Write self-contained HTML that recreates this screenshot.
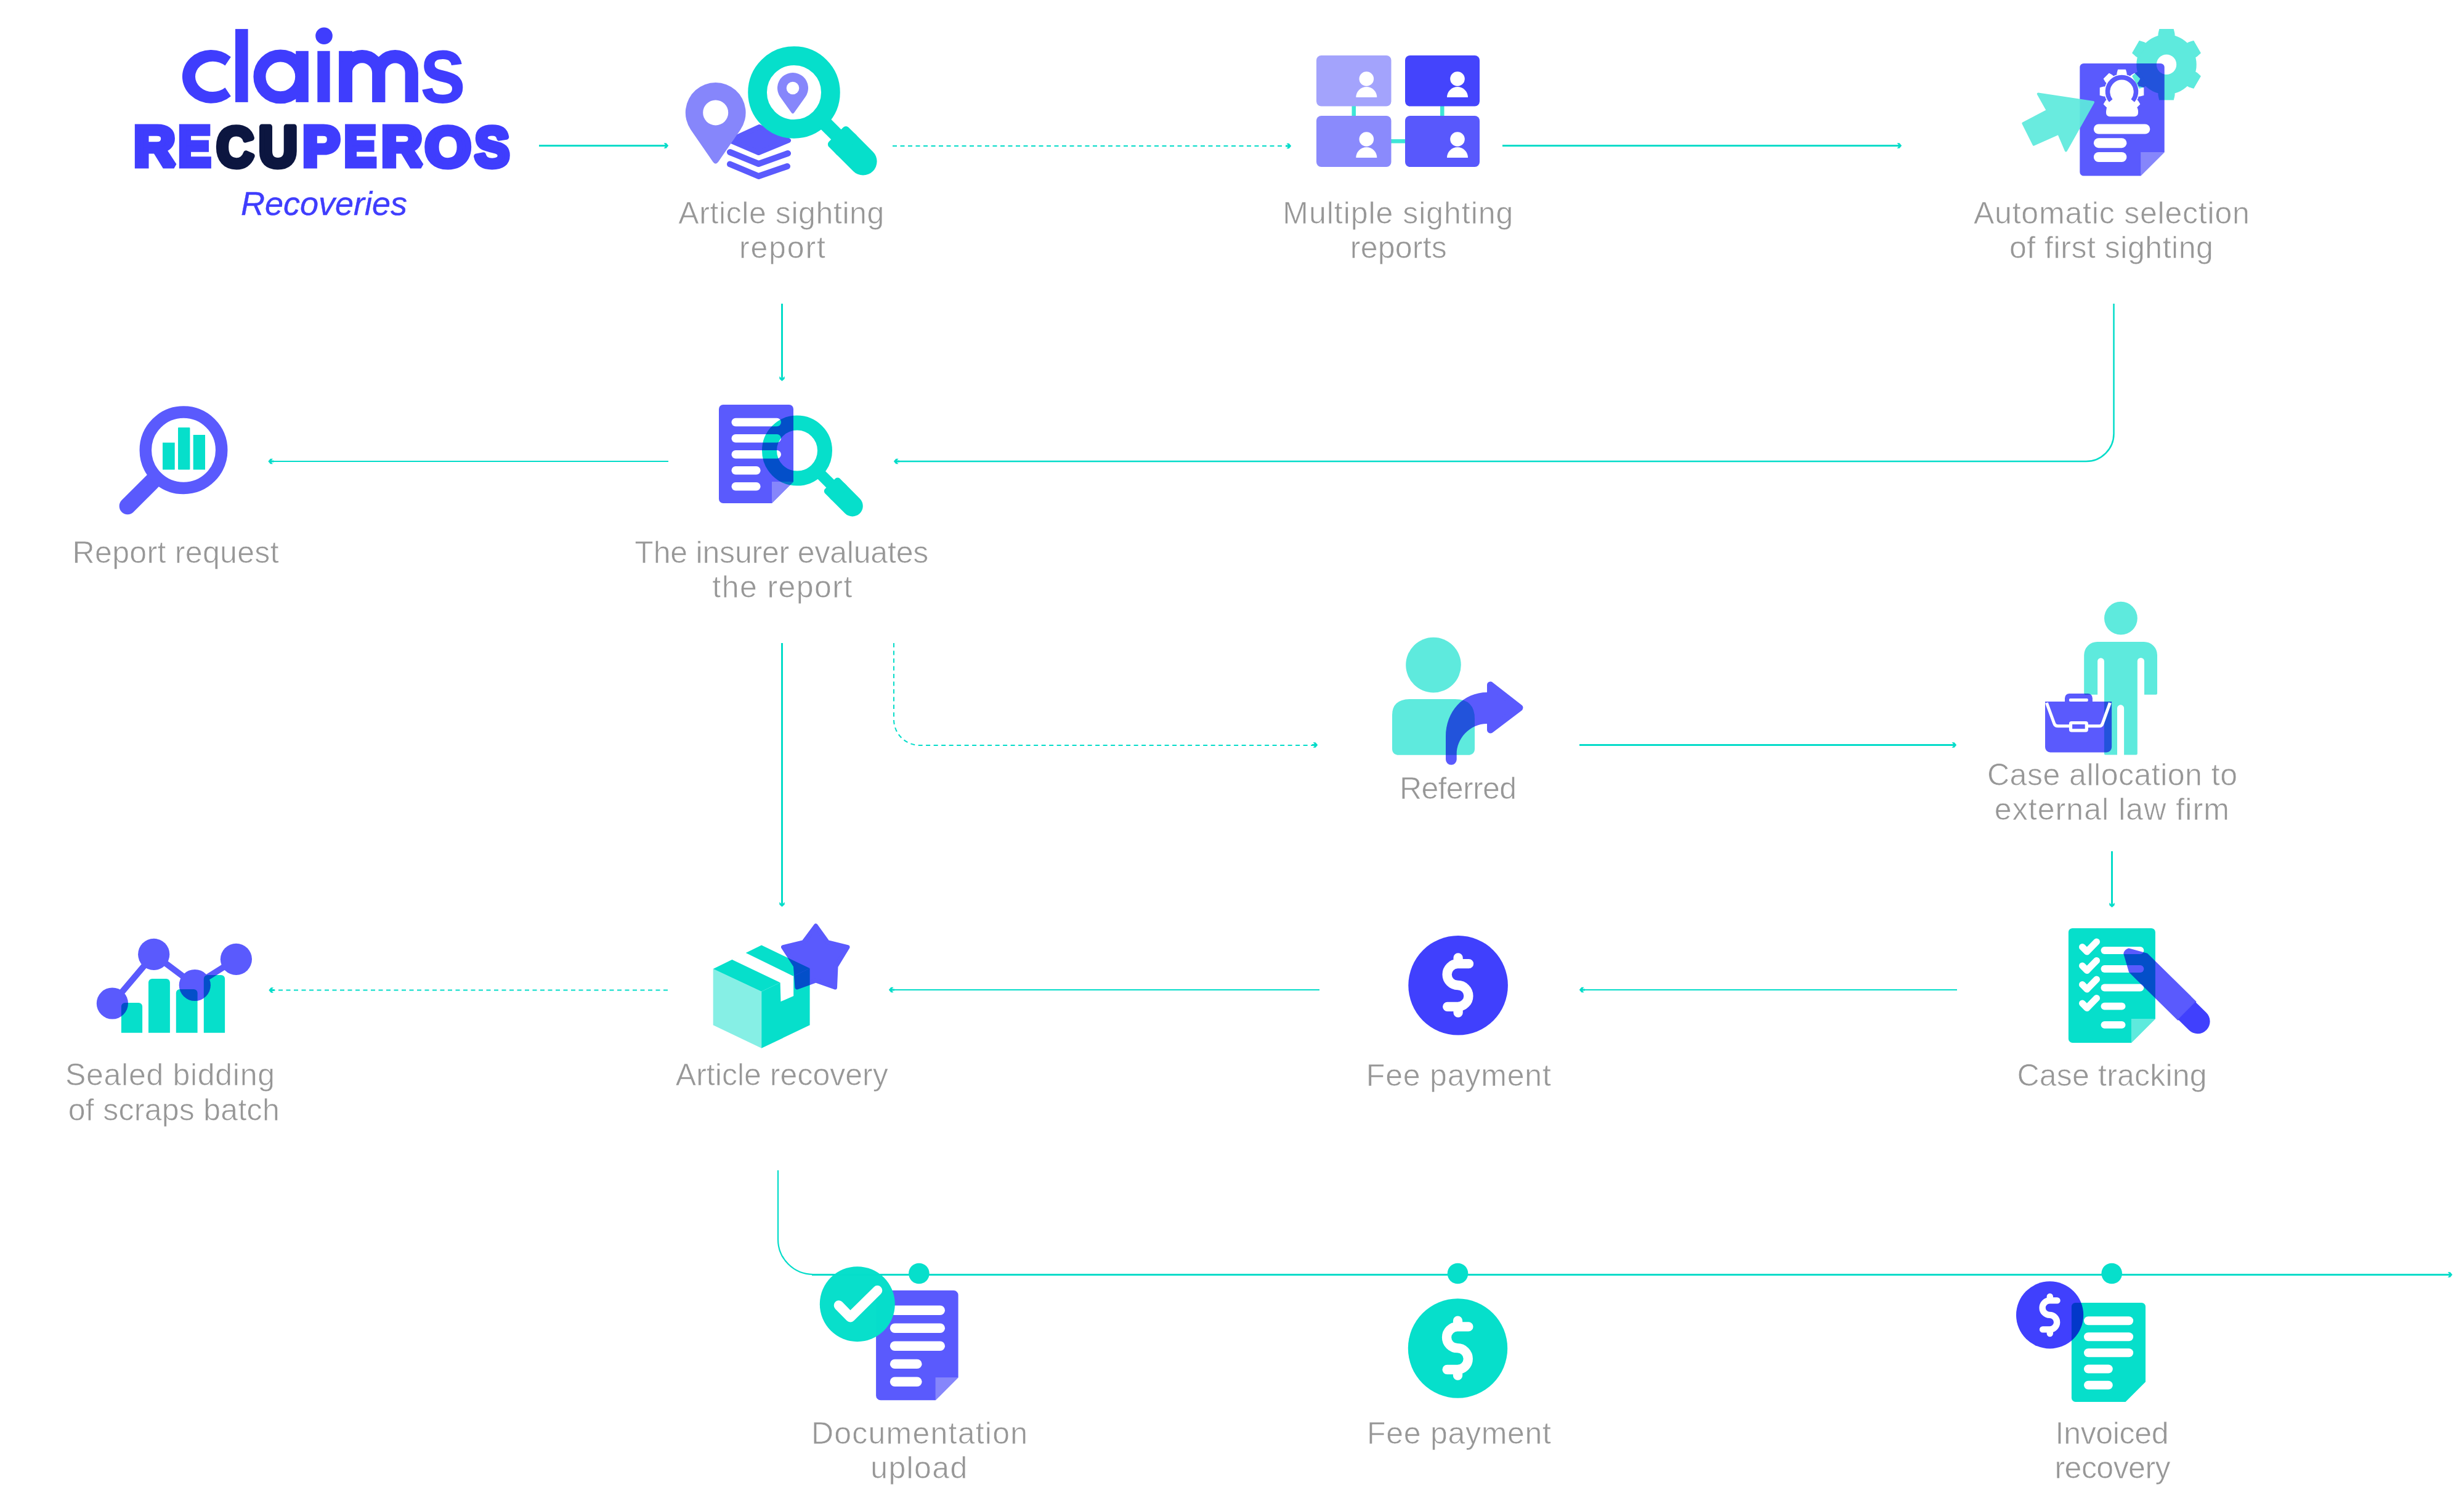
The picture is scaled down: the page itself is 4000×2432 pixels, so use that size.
<!DOCTYPE html>
<html><head><meta charset="utf-8"><style>
html,body{margin:0;padding:0;background:#fff;width:4000px;height:2432px;overflow:hidden}
svg{display:block}
text{font-family:"Liberation Sans",sans-serif}
</style></head><body>
<svg width="4000" height="2432" viewBox="0 0 4000 2432" style="isolation:isolate">
<rect width="4000" height="2432" fill="#fff"/>
<path d="M875,236.5 H1079" fill="none" stroke="#04dcc9" stroke-width="3"/>
<polygon points="1077.50,232.30 1081.50,232.30 1085.00,236.20 1085.00,236.80 1081.50,240.70 1077.50,240.70 1080.00,237.90 1076.00,237.90 1076.00,235.10 1080.00,235.10" fill="#04dcc9"/>
<path d="M1449,237 H2081" fill="none" stroke="#04dcc9" stroke-width="2" stroke-dasharray="7 5.5"/>
<polygon points="2088.50,232.80 2092.50,232.80 2096.00,236.70 2096.00,237.30 2092.50,241.20 2088.50,241.20 2091.00,238.40 2087.00,238.40 2087.00,235.60 2091.00,235.60" fill="#04dcc9"/>
<path d="M2439,236.5 H3080" fill="none" stroke="#04dcc9" stroke-width="3"/>
<polygon points="3079.50,232.30 3083.50,232.30 3087.00,236.20 3087.00,236.80 3083.50,240.70 3079.50,240.70 3082.00,237.90 3078.00,237.90 3078.00,235.10 3082.00,235.10" fill="#04dcc9"/>
<path d="M1269.5,493 V612" fill="none" stroke="#04dcc9" stroke-width="3"/>
<polygon points="1273.70,611.00 1273.70,615.00 1269.80,618.50 1269.20,618.50 1265.30,615.00 1265.30,611.00 1268.10,613.50 1268.10,609.50 1270.90,609.50 1270.90,613.50" fill="#04dcc9"/>
<path d="M3431.5,493 V704 A45,45 0 0 1 3386.5,749 H1457" fill="none" stroke="#04dcc9" stroke-width="2.5"/>
<polygon points="1458.50,753.20 1454.50,753.20 1451.00,749.30 1451.00,748.70 1454.50,744.80 1458.50,744.80 1456.00,747.60 1460.00,747.60 1460.00,750.40 1456.00,750.40" fill="#04dcc9"/>
<path d="M1085,749 H442" fill="none" stroke="#04dcc9" stroke-width="2"/>
<polygon points="443.00,753.20 439.00,753.20 435.50,749.30 435.50,748.70 439.00,744.80 443.00,744.80 440.50,747.60 444.50,747.60 444.50,750.40 440.50,750.40" fill="#04dcc9"/>
<path d="M1269.5,1044 V1466" fill="none" stroke="#04dcc9" stroke-width="3"/>
<polygon points="1273.70,1464.50 1273.70,1468.50 1269.80,1472.00 1269.20,1472.00 1265.30,1468.50 1265.30,1464.50 1268.10,1467.00 1268.10,1463.00 1270.90,1463.00 1270.90,1467.00" fill="#04dcc9"/>
<path d="M1451,1044 V1168 A42,42 0 0 0 1493,1210 H2131" fill="none" stroke="#04dcc9" stroke-width="2" stroke-dasharray="7 5.5"/>
<polygon points="2131.50,1205.30 2135.50,1205.30 2139.00,1209.20 2139.00,1209.80 2135.50,1213.70 2131.50,1213.70 2134.00,1210.90 2130.00,1210.90 2130.00,1208.10 2134.00,1208.10" fill="#04dcc9"/>
<path d="M2564,1209.5 H3170" fill="none" stroke="#04dcc9" stroke-width="3"/>
<polygon points="3168.50,1205.30 3172.50,1205.30 3176.00,1209.20 3176.00,1209.80 3172.50,1213.70 3168.50,1213.70 3171.00,1210.90 3167.00,1210.90 3167.00,1208.10 3171.00,1208.10" fill="#04dcc9"/>
<path d="M3428.5,1382 V1467" fill="none" stroke="#04dcc9" stroke-width="3"/>
<polygon points="3432.70,1465.50 3432.70,1469.50 3428.80,1473.00 3428.20,1473.00 3424.30,1469.50 3424.30,1465.50 3427.10,1468.00 3427.10,1464.00 3429.90,1464.00 3429.90,1468.00" fill="#04dcc9"/>
<path d="M3177,1607 H2570" fill="none" stroke="#04dcc9" stroke-width="2"/>
<polygon points="2571.50,1611.20 2567.50,1611.20 2564.00,1607.30 2564.00,1606.70 2567.50,1602.80 2571.50,1602.80 2569.00,1605.60 2573.00,1605.60 2573.00,1608.40 2569.00,1608.40" fill="#04dcc9"/>
<path d="M2142,1607 H1449" fill="none" stroke="#04dcc9" stroke-width="2"/>
<polygon points="1450.50,1611.20 1446.50,1611.20 1443.00,1607.30 1443.00,1606.70 1446.50,1602.80 1450.50,1602.80 1448.00,1605.60 1452.00,1605.60 1452.00,1608.40 1448.00,1608.40" fill="#04dcc9"/>
<path d="M1084,1607.5 H444" fill="none" stroke="#04dcc9" stroke-width="2" stroke-dasharray="7 5.5"/>
<polygon points="444.00,1611.70 440.00,1611.70 436.50,1607.80 436.50,1607.20 440.00,1603.30 444.00,1603.30 441.50,1606.10 445.50,1606.10 445.50,1608.90 441.50,1608.90" fill="#04dcc9"/>
<path d="M1263,1900 V2012 A57,57 0 0 0 1320,2069 H1330" fill="none" stroke="#04dcc9" stroke-width="2.2"/>
<path d="M1318,2069.5 H3974" fill="none" stroke="#04dcc9" stroke-width="3"/>
<polygon points="3973.50,2065.30 3977.50,2065.30 3981.00,2069.20 3981.00,2069.80 3977.50,2073.70 3973.50,2073.70 3976.00,2070.90 3972.00,2070.90 3972.00,2068.10 3976.00,2068.10" fill="#04dcc9"/>
<circle cx="1491.9" cy="2067.5" r="16.8" fill="#06dfcb"/>
<circle cx="2366.5" cy="2067.5" r="16.8" fill="#06dfcb"/>
<circle cx="3428.2" cy="2067.5" r="16.8" fill="#06dfcb"/>
<path d="M374.8,92.4 A47,43.4 0 1 0 374.8,156.2 L365.4,142.2 A28.6,24.7 0 1 1 365.4,106.6 Z" fill="#3f3dfd"/>
<rect x="382" y="47.1" width="20.6" height="118.8" fill="#3f3dfd"/>
<circle cx="455.3" cy="124.4" r="33.9" fill="none" stroke="#3f3dfd" stroke-width="20"/>
<rect x="480.2" y="82.8" width="20.6" height="83.1" fill="#3f3dfd"/>
<rect x="515.3" y="82.8" width="20.3" height="83.1" fill="#3f3dfd"/>
<circle cx="526" cy="58.2" r="13.8" fill="#3f3dfd"/>
<rect x="550.1" y="82.8" width="21.9" height="83.1" fill="#3f3dfd"/>
<path d="M561,165.9 V118.5 A26.6,26.6 0 0 1 614.75,118.5 V165.9 M614.75,118.5 A26.5,26.5 0 0 1 668.25,118.5 V165.9" fill="none" stroke="#3f3dfd" stroke-width="21.3"/>
<text transform="translate(680.59 166.12) scale(0.8697 1)" font-size="158.11" font-weight="700" font-style="normal" fill="#3f3dfd">s</text>
<text transform="translate(217.21 269.30) scale(1.0312 1)" font-size="90.12" font-weight="700" font-style="normal" fill="#3f3dfd" stroke="#3f3dfd" stroke-width="9.00" stroke-miterlimit="2" stroke-linejoin="miter">R</text>
<text transform="translate(289.55 269.30) scale(0.8748 1)" font-size="90.12" font-weight="700" font-style="normal" fill="#3f3dfd" stroke="#3f3dfd" stroke-width="9.00" stroke-miterlimit="2" stroke-linejoin="miter">E</text>
<text transform="translate(351.58 270.48) scale(0.9123 1)" font-size="91.67" font-weight="700" font-style="normal" fill="#0c1640" stroke="#0c1640" stroke-width="9.00" stroke-miterlimit="2" stroke-linejoin="round">C</text>
<text transform="translate(420.04 270.48) scale(0.9472 1)" font-size="91.83" font-weight="700" font-style="normal" fill="#0c1640" stroke="#0c1640" stroke-width="9.00" stroke-miterlimit="2" stroke-linejoin="round">U</text>
<text transform="translate(491.26 269.30) scale(1.0032 1)" font-size="90.12" font-weight="700" font-style="normal" fill="#3f3dfd" stroke="#3f3dfd" stroke-width="9.00" stroke-miterlimit="2" stroke-linejoin="miter">P</text>
<text transform="translate(558.77 269.30) scale(0.8631 1)" font-size="90.12" font-weight="700" font-style="normal" fill="#3f3dfd" stroke="#3f3dfd" stroke-width="9.00" stroke-miterlimit="2" stroke-linejoin="miter">E</text>
<text transform="translate(619.24 269.30) scale(1.0161 1)" font-size="90.12" font-weight="700" font-style="normal" fill="#3f3dfd" stroke="#3f3dfd" stroke-width="9.00" stroke-miterlimit="2" stroke-linejoin="miter">R</text>
<text transform="translate(690.11 269.99) scale(1.0524 1)" font-size="90.96" font-weight="700" font-style="normal" fill="#3f3dfd" stroke="#3f3dfd" stroke-width="9.00" stroke-miterlimit="2" stroke-linejoin="round">O</text>
<text transform="translate(770.72 269.99) scale(0.9262 1)" font-size="90.96" font-weight="700" font-style="normal" fill="#3f3dfd" stroke="#3f3dfd" stroke-width="9.00" stroke-miterlimit="2" stroke-linejoin="round">S</text>
<text x="526" y="349.2" text-anchor="middle" font-size="54" font-style="italic" fill="#3f3dfd" textLength="270" lengthAdjust="spacingAndGlyphs" stroke="#3f3dfd" stroke-width="0.4">Recoveries</text>
<path d="M1185,228 L1233,206 L1280,228 L1231.5,248 Z" fill="#5a5afd" stroke="#5a5afd" stroke-width="8" stroke-linejoin="round"/>
<path d="M1185,247 L1231.5,266 L1279,249" fill="none" stroke="#5a5afd" stroke-width="10" stroke-linecap="round" stroke-linejoin="round"/>
<path d="M1185,266.5 L1231.5,286 L1278,270" fill="none" stroke="#5a5afd" stroke-width="10" stroke-linecap="round" stroke-linejoin="round"/>
<path d="M1157.16,262.42 L1121.45,210.67 A48.90,48.90 0 1 1 1201.95,210.67 L1166.24,262.42 Q1161.70,269.00 1157.16,262.42 Z" fill="#8686fb"/><circle cx="1161.70" cy="182.90" r="20.50" fill="#fff"/>
<g>
<circle cx="1289" cy="150" r="59.4" fill="none" stroke="#06dfcb" stroke-width="30.7"/>
<g transform="translate(1289 150) rotate(45)"><rect x="70" y="-11.5" width="30" height="23" fill="#06dfcb"/><rect x="96.6" y="-22.5" width="84.4" height="45" rx="22.5" fill="#06dfcb"/><rect x="96.6" y="-22.5" width="30" height="45" rx="6" fill="#06dfcb"/></g>
</g>
<path d="M1284.67,182.75 L1266.66,157.53 A25.00,25.00 0 1 1 1307.34,157.53 L1289.33,182.75 Q1287.00,186.00 1284.67,182.75 Z" fill="#8686fb"/><circle cx="1287.00" cy="143.00" r="10.30" fill="#fff"/>
<text x="1268.3" y="363.0" text-anchor="middle" font-size="50" fill="#979797" textLength="334.0" lengthAdjust="spacing" stroke="#fff" stroke-width="0.7" >Article sighting</text>
<text x="1269.9" y="418.8" text-anchor="middle" font-size="50" fill="#979797" textLength="140.0" lengthAdjust="spacing" stroke="#fff" stroke-width="0.7" >report</text>
<rect x="2194.5" y="170" width="6.5" height="20" fill="#3ee6d6"/>
<rect x="2338" y="170" width="6.5" height="20" fill="#3ee6d6"/>
<rect x="2256" y="226" width="28" height="6.5" fill="#3ee6d6"/>
<rect x="2137.00" y="90.00" width="121.50" height="82.50" rx="8" fill="#a3a3fc"/><circle cx="2218.30" cy="128.00" r="11.8" fill="#fff"/><path d="M2201.30,158.00 A17,17 0 0 1 2235.30,158.00 Z" fill="#fff"/>
<rect x="2281.00" y="90.00" width="121.00" height="82.50" rx="8" fill="#4444fc"/><circle cx="2366.00" cy="128.00" r="11.8" fill="#fff"/><path d="M2349.00,158.00 A17,17 0 0 1 2383.00,158.00 Z" fill="#fff"/>
<rect x="2137.00" y="188.00" width="121.50" height="83.00" rx="8" fill="#8a8afc"/><circle cx="2218.30" cy="226.00" r="11.8" fill="#fff"/><path d="M2201.30,256.00 A17,17 0 0 1 2235.30,256.00 Z" fill="#fff"/>
<rect x="2281.00" y="188.00" width="121.00" height="83.00" rx="8" fill="#5858fc"/><circle cx="2366.00" cy="226.00" r="11.8" fill="#fff"/><path d="M2349.00,256.00 A17,17 0 0 1 2383.00,256.00 Z" fill="#fff"/>
<text x="2269.3" y="363.0" text-anchor="middle" font-size="50" fill="#979797" textLength="374.0" lengthAdjust="spacing" stroke="#fff" stroke-width="0.7" >Multiple sighting</text>
<text x="2270.3" y="418.8" text-anchor="middle" font-size="50" fill="#979797" textLength="157.0" lengthAdjust="spacing" stroke="#fff" stroke-width="0.7" >reports</text>
<path d="M3382.60,103.00 H3507.40 A6.3,6.3 0 0 1 3513.70,109.30 V247.10 L3475.20,285.60 H3382.60 A6.3,6.3 0 0 1 3376.30,279.30 V109.30 A6.3,6.3 0 0 1 3382.60,103.00 Z" fill="#5a5afd"/><path d="M3475.20,247.10 H3513.70 L3475.20,285.60 Z" fill="#8686fb"/>
<rect x="3398.90" y="201.50" width="91.40" height="16.00" rx="8.00" fill="#fff"/>
<rect x="3398.90" y="224.20" width="53.50" height="16.00" rx="8.00" fill="#fff"/>
<rect x="3398.90" y="247.00" width="53.50" height="16.00" rx="8.00" fill="#fff"/>
<g ><circle cx="3444.50" cy="148.50" r="28.50" fill="#fff"/><path d="M3452.00,125.00 L3452.00,119.00 L3450.50,113.30 L3438.50,113.30 L3437.00,119.00 L3437.00,125.00 Z M3433.19,126.58 L3428.94,122.34 L3423.85,119.37 L3415.37,127.85 L3418.34,132.94 L3422.58,137.19 Z M3421.00,141.00 L3415.00,141.00 L3409.30,142.50 L3409.30,154.50 L3415.00,156.00 L3421.00,156.00 Z M3422.58,159.81 L3418.34,164.06 L3415.37,169.15 L3423.85,177.63 L3428.94,174.66 L3433.19,170.42 Z M3437.00,172.00 L3437.00,178.00 L3438.50,183.70 L3450.50,183.70 L3452.00,178.00 L3452.00,172.00 Z M3455.81,170.42 L3460.06,174.66 L3465.15,177.63 L3473.63,169.15 L3470.66,164.06 L3466.42,159.81 Z M3468.00,156.00 L3474.00,156.00 L3479.70,154.50 L3479.70,142.50 L3474.00,141.00 L3468.00,141.00 Z M3466.42,137.19 L3470.66,132.94 L3473.63,127.85 L3465.15,119.37 L3460.06,122.34 L3455.81,126.58 Z " fill="#fff" stroke="#fff" stroke-width="1.2" stroke-linejoin="round"/></g>
<path d="M3426.96,163.22 A22.90,22.90 0 1 1 3462.04,163.22" fill="none" stroke="#5a5afd" stroke-width="7.8"/>
<circle cx="3444.5" cy="149.5" r="19" fill="#fff"/>
<path d="M3421,172.7 H3468 Q3471,176 3471,181 V183.3 A6,6 0 0 1 3465,189.3 H3425 A6,6 0 0 1 3419,183.3 V181 Q3419,176 3421,172.7 Z" fill="#fff"/>
<mask id="gm1"><rect x="3454.8" y="42.6" width="124.4" height="124.4" fill="#fff"/><circle cx="3517.00" cy="104.80" r="16.20" fill="#000"/></mask><g style="mix-blend-mode:multiply" mask="url(#gm1)"><circle cx="3517.00" cy="104.80" r="48.70" fill="#5eeadd"/><path d="M3529.94,61.10 L3529.94,55.10 L3528.25,47.60 L3505.75,47.60 L3504.06,55.10 L3504.06,61.10 Z M3485.62,71.75 L3480.43,68.75 L3473.09,66.46 L3461.84,85.94 L3467.49,91.15 L3472.69,94.15 Z M3472.69,115.45 L3467.49,118.45 L3461.84,123.66 L3473.09,143.14 L3480.43,140.85 L3485.62,137.85 Z M3504.06,148.50 L3504.06,154.50 L3505.75,162.00 L3528.25,162.00 L3529.94,154.50 L3529.94,148.50 Z M3548.38,137.85 L3553.57,140.85 L3560.91,143.14 L3572.16,123.66 L3566.51,118.45 L3561.31,115.45 Z M3561.31,94.15 L3566.51,91.15 L3572.16,85.94 L3560.91,66.46 L3553.57,68.75 L3548.38,71.75 Z " fill="#5eeadd" stroke="#5eeadd" stroke-width="1.2" stroke-linejoin="round"/></g>
<polygon points="3308.8,152.6 3398,166 3353.8,244.5 3342,216.6 3301.5,234.6 3284.4,200.3 3324,179.6" fill="#5eeadd" stroke="#5eeadd" stroke-width="4" stroke-linejoin="round" opacity="0.93"/>
<text x="3427.9" y="363.0" text-anchor="middle" font-size="50" fill="#979797" textLength="448.0" lengthAdjust="spacing" stroke="#fff" stroke-width="0.7" >Automatic selection</text>
<text x="3427.4" y="418.8" text-anchor="middle" font-size="50" fill="#979797" textLength="331.0" lengthAdjust="spacing" stroke="#fff" stroke-width="0.7" >of first sighting</text>
<g transform="translate(298 730.8) rotate(135)"><rect x="55" y="-13.5" width="87" height="27" rx="13.5" fill="#5a5afd"/></g>
<circle cx="298" cy="730.8" r="61.7" fill="#fff" stroke="#5a5afd" stroke-width="19.5"/>
<rect x="264" y="718.6" width="19.7" height="43.9" fill="#06dfcb"/>
<rect x="289" y="694" width="19.4" height="68.5" rx="1" fill="#06dfcb"/>
<rect x="313.7" y="706" width="19.3" height="56.5" fill="#06dfcb"/>
<text x="285.1" y="914.0" text-anchor="middle" font-size="50" fill="#979797" textLength="335.0" lengthAdjust="spacing" stroke="#fff" stroke-width="0.7" >Report request</text>
<path d="M1174.00,657.00 H1281.00 A7,7 0 0 1 1288.00,664.00 V782.00 L1253.00,817.00 H1174.00 A7,7 0 0 1 1167.00,810.00 V664.00 A7,7 0 0 1 1174.00,657.00 Z" fill="#5a5afd"/><path d="M1253.00,782.00 H1288.00 L1253.00,817.00 Z" fill="#8686fb"/>
<rect x="1187.50" y="678.80" width="80.50" height="13.40" rx="6.70" fill="#fff"/>
<rect x="1187.50" y="705.10" width="80.50" height="13.40" rx="6.70" fill="#fff"/>
<rect x="1187.50" y="731.10" width="80.50" height="13.40" rx="6.70" fill="#fff"/>
<rect x="1187.50" y="757.10" width="47.10" height="13.40" rx="6.70" fill="#fff"/>
<rect x="1187.50" y="783.10" width="47.10" height="13.40" rx="6.70" fill="#fff"/>
<g style="mix-blend-mode:multiply">
<circle cx="1294" cy="731.6" r="45" fill="none" stroke="#06dfcb" stroke-width="24"/>
<g transform="translate(1294 731.6) rotate(45)"><rect x="55" y="-9" width="25" height="18" fill="#06dfcb"/><rect x="76" y="-17" width="68" height="34" rx="17" fill="#06dfcb"/><rect x="76" y="-17" width="25" height="34" rx="5" fill="#06dfcb"/></g>
</g>
<text x="1268.8" y="914.0" text-anchor="middle" font-size="50" fill="#979797" textLength="477.0" lengthAdjust="spacing" stroke="#fff" stroke-width="0.7" >The insurer evaluates</text>
<text x="1269.8" y="969.8" text-anchor="middle" font-size="50" fill="#979797" textLength="227.0" lengthAdjust="spacing" stroke="#fff" stroke-width="0.7" >the report</text>
<circle cx="2327" cy="1079.6" r="44.8" fill="#5eeadd"/>
<path d="M2260,1161 Q2260,1135 2290,1135 H2362 Q2394,1135 2394,1167 V1215 Q2394,1225.8 2383,1225.8 H2271 Q2260,1225.8 2260,1215 Z" fill="#5eeadd"/>
<path d="M2347,1233 V1196 C2347,1155 2375,1124 2414.3,1124 H2422 V1175 H2414.3 C2385,1175 2364.7,1200 2364.7,1224 V1233 A8.85,8.85 0 0 1 2347,1233 Z" fill="#5a5afd" style="mix-blend-mode:multiply"/>
<path d="M2419.5,1112 L2467,1149 L2419.5,1185 Z" fill="#5a5afd" stroke="#5a5afd" stroke-width="11" stroke-linejoin="round"/>
<text x="2367.0" y="1296.6" text-anchor="middle" font-size="50" fill="#979797" textLength="190.0" lengthAdjust="spacing" stroke="#fff" stroke-width="0.7" >Referred</text>
<circle cx="3442.9" cy="1003.7" r="26.9" fill="#5eeadd"/>
<path d="M3383.2,1063.5 A21.6,21.6 0 0 1 3404.8,1041.9 H3480.4 A21.6,21.6 0 0 1 3502,1063.5 V1125.7 Q3502,1127.7 3500,1127.7 H3481 V1073.5 A5.6,5.6 0 0 0 3469.8,1073.5 V1223.5 Q3469.8,1225.5 3467.8,1225.5 H3448.1 V1149.8 A5.55,5.55 0 0 0 3437,1149.8 V1225.5 H3417.9 Q3415.9,1225.5 3415.9,1223.5 V1073.5 A5.4,5.4 0 0 0 3405.1,1073.5 V1127.7 H3385.2 Q3383.2,1127.7 3383.2,1125.7 Z" fill="#5eeadd"/>
<g style="mix-blend-mode:multiply">
<path d="M3352,1139.1 V1133.4 A7.5,7.5 0 0 1 3359.5,1125.9 H3389.4 A7.5,7.5 0 0 1 3396.9,1133.4 V1139.1 Z" fill="#5a5afd"/>
<path d="M3320,1139.1 H3428.1 V1213 A8.4,8.4 0 0 1 3419.7,1221.4 H3328.4 A8.4,8.4 0 0 1 3320,1213 Z" fill="#5a5afd"/>
</g>
<rect x="3358.9" y="1133.9" width="30.9" height="5.2" rx="2" fill="#fff"/>
<path d="M3322.4,1141 L3334.5,1174 Q3336,1178.8 3341,1178.8 H3408 Q3412,1178.8 3413.5,1174 L3425.3,1141" fill="none" stroke="#fff" stroke-width="5"/>
<rect x="3361.5" y="1173.5" width="25.8" height="12.4" rx="1.5" fill="#5a5afd" stroke="#fff" stroke-width="5.2"/>
<text x="3429.0" y="1275.3" text-anchor="middle" font-size="50" fill="#979797" textLength="406.0" lengthAdjust="spacing" stroke="#fff" stroke-width="0.7" >Case allocation to</text>
<text x="3428.3" y="1331.0" text-anchor="middle" font-size="50" fill="#979797" textLength="381.0" lengthAdjust="spacing" stroke="#fff" stroke-width="0.7" >external law firm</text>
<path d="M196.90,1676.8 V1634.00 A6,6 0 0 1 202.90,1628.00 H225.10 A6,6 0 0 1 231.10,1634.00 V1676.8 Z" fill="#06dfcb"/>
<path d="M241.00,1676.8 V1595.00 A6,6 0 0 1 247.00,1589.00 H269.90 A6,6 0 0 1 275.90,1595.00 V1676.8 Z" fill="#06dfcb"/>
<path d="M285.80,1676.8 V1612.10 A6,6 0 0 1 291.80,1606.10 H314.60 A6,6 0 0 1 320.60,1612.10 V1676.8 Z" fill="#06dfcb"/>
<path d="M330.80,1676.8 V1588.90 A6,6 0 0 1 336.80,1582.90 H359.10 A6,6 0 0 1 365.10,1588.90 V1676.8 Z" fill="#06dfcb"/>
<g style="mix-blend-mode:multiply">
<path d="M182.4,1629 L249.7,1549.4 L316.3,1599.5 L383.4,1557.3" fill="none" stroke="#5a5afd" stroke-width="10"/>
<circle cx="182.4" cy="1629.0" r="25.6" fill="#5a5afd"/>
<circle cx="249.7" cy="1549.4" r="25.6" fill="#5a5afd"/>
<circle cx="316.3" cy="1599.5" r="25.6" fill="#5a5afd"/>
<circle cx="383.4" cy="1557.3" r="25.6" fill="#5a5afd"/>
</g>
<text x="276.0" y="1762.0" text-anchor="middle" font-size="50" fill="#979797" textLength="340.0" lengthAdjust="spacing" stroke="#fff" stroke-width="0.7" >Sealed bidding</text>
<text x="282.2" y="1818.8" text-anchor="middle" font-size="50" fill="#979797" textLength="343.0" lengthAdjust="spacing" stroke="#fff" stroke-width="0.7" >of scraps batch</text>
<polygon points="1157.7,1572.9 1236.2,1609.7 1236.2,1701.8 1157.7,1664.2" fill="#86efe5"/>
<polygon points="1236.2,1609.7 1314.6,1572.1 1314.6,1664.2 1236.2,1701.8" fill="#06dfcb"/>
<polygon points="1157.7,1572.9 1236.2,1534.5 1314.6,1572.1 1236.2,1609.7" fill="#06dfcb"/>
<polygon points="1188,1557.7 1209.7,1546.5 1288.2,1584.9 1288.2,1617 1267.5,1626 1266.6,1595.3" fill="#fff"/>
<path d="M1324.3,1503 L1343.5,1529.7 L1376,1537.7 L1357,1569 L1355.5,1603 L1324.3,1592 L1294,1603 L1291.4,1568 L1271.5,1537.7 L1304.5,1529.7 Z" fill="#5a5afd" stroke="#5a5afd" stroke-width="7" stroke-linejoin="round" style="mix-blend-mode:multiply"/>
<text x="1269.3" y="1762.0" text-anchor="middle" font-size="50" fill="#979797" textLength="345.0" lengthAdjust="spacing" stroke="#fff" stroke-width="0.7" >Article recovery</text>
<circle cx="2367.1" cy="1599.8" r="80.8" fill="#4040fd"/>
<path d="M2384.50,1564.70 H2366.50 A17.40,17.40 0 0 0 2366.50,1599.50 A17.40,17.40 0 0 1 2366.50,1634.30 H2349.70 M2367.10,1564.70 V1555.00 M2367.10,1634.30 V1644.00" fill="none" stroke="#fff" stroke-width="15.30" stroke-linecap="round"/>
<text x="2367.8" y="1763.0" text-anchor="middle" font-size="50" fill="#979797" textLength="300.0" lengthAdjust="spacing" stroke="#fff" stroke-width="0.7" >Fee payment</text>
<path d="M3364.50,1506.90 H3492.30 A6.6,6.6 0 0 1 3498.90,1513.50 V1654.00 L3459.90,1693.00 H3364.50 A6.6,6.6 0 0 1 3357.90,1686.40 V1513.50 A6.6,6.6 0 0 1 3364.50,1506.90 Z" fill="#06dfcb"/><path d="M3459.90,1654.00 H3498.90 L3459.90,1693.00 Z" fill="#5eeadd"/>
<path d="M3380.5,1537.50 L3387.9,1545.00 L3403.5,1529.00" fill="none" stroke="#fff" stroke-width="11" stroke-linecap="round" stroke-linejoin="round"/>
<path d="M3380.5,1568.00 L3387.9,1575.50 L3403.5,1559.50" fill="none" stroke="#fff" stroke-width="11" stroke-linecap="round" stroke-linejoin="round"/>
<path d="M3380.5,1598.50 L3387.9,1606.00 L3403.5,1590.00" fill="none" stroke="#fff" stroke-width="11" stroke-linecap="round" stroke-linejoin="round"/>
<path d="M3380.5,1629.00 L3387.9,1636.50 L3403.5,1620.50" fill="none" stroke="#fff" stroke-width="11" stroke-linecap="round" stroke-linejoin="round"/>
<rect x="3410.50" y="1537.10" width="69.80" height="11.80" rx="5.90" fill="#fff"/>
<rect x="3410.50" y="1567.10" width="69.80" height="11.80" rx="5.90" fill="#fff"/>
<rect x="3410.50" y="1597.60" width="69.80" height="11.80" rx="5.90" fill="#fff"/>
<rect x="3410.50" y="1627.80" width="40.00" height="11.80" rx="5.90" fill="#fff"/>
<rect x="3410.50" y="1657.90" width="40.00" height="11.80" rx="5.90" fill="#fff"/>
<g transform="translate(3471.5 1563.5) rotate(44.6)" style="mix-blend-mode:multiply"><path d="M0,-20 L-27,-5 Q-30,0 -27,5 L0,20 H110 V-20 Z" fill="#5a5afd" stroke="#5a5afd" stroke-width="3" stroke-linejoin="round"/><path d="M110,-20 H135 A20,20 0 0 1 135,20 H110 Z" fill="#4040fd"/></g>
<text x="3428.5" y="1763.0" text-anchor="middle" font-size="50" fill="#979797" textLength="308.0" lengthAdjust="spacing" stroke="#fff" stroke-width="0.7" >Case tracking</text>
<path d="M1429.60,2095.10 H1548.10 A7.5,7.5 0 0 1 1555.60,2102.60 V2236.30 L1518.60,2273.30 H1429.60 A7.5,7.5 0 0 1 1422.10,2265.80 V2102.60 A7.5,7.5 0 0 1 1429.60,2095.10 Z" fill="#5a5afd"/><path d="M1518.60,2236.30 H1555.60 L1518.60,2273.30 Z" fill="#8686fb"/>
<rect x="1444.80" y="2119.60" width="89.20" height="15.40" rx="7.70" fill="#fff"/>
<rect x="1444.80" y="2148.60" width="89.20" height="15.40" rx="7.70" fill="#fff"/>
<rect x="1444.80" y="2177.50" width="89.20" height="15.40" rx="7.70" fill="#fff"/>
<rect x="1444.80" y="2206.70" width="51.80" height="15.40" rx="7.70" fill="#fff"/>
<rect x="1444.80" y="2235.60" width="51.80" height="15.40" rx="7.70" fill="#fff"/>
<g opacity="0.99"><circle cx="1391.8" cy="2117.2" r="61" fill="#06dfcb"/><path d="M1361.7,2119.3 L1380.4,2138.5 L1424.3,2095.1" fill="none" stroke="#fff" stroke-width="16" stroke-linecap="round" stroke-linejoin="round"/></g>
<text x="1492.5" y="2344.0" text-anchor="middle" font-size="50" fill="#979797" textLength="351.0" lengthAdjust="spacing" stroke="#fff" stroke-width="0.7" >Documentation</text>
<text x="1491.7" y="2400.0" text-anchor="middle" font-size="50" fill="#979797" textLength="157.0" lengthAdjust="spacing" stroke="#fff" stroke-width="0.7" >upload</text>
<circle cx="2366.5" cy="2189" r="80.7" fill="#06dfcb"/>
<path d="M2383.90,2153.90 H2365.90 A17.40,17.40 0 0 0 2365.90,2188.70 A17.40,17.40 0 0 1 2365.90,2223.50 H2349.10 M2366.50,2153.90 V2144.20 M2366.50,2223.50 V2233.20" fill="none" stroke="#fff" stroke-width="15.30" stroke-linecap="round"/>
<text x="2368.5" y="2344.0" text-anchor="middle" font-size="50" fill="#979797" textLength="299.0" lengthAdjust="spacing" stroke="#fff" stroke-width="0.7" >Fee payment</text>
<path d="M3369.30,2114.90 H3476.60 A6.4,6.4 0 0 1 3483.00,2121.30 V2243.40 L3450.50,2275.90 H3369.30 A6.4,6.4 0 0 1 3362.90,2269.50 V2121.30 A6.4,6.4 0 0 1 3369.30,2114.90 Z" fill="#06dfcb"/>
<rect x="3383.00" y="2137.15" width="80.10" height="14.10" rx="7.05" fill="#fff"/>
<rect x="3383.00" y="2163.15" width="80.10" height="14.10" rx="7.05" fill="#fff"/>
<rect x="3383.00" y="2189.25" width="80.10" height="14.10" rx="7.05" fill="#fff"/>
<rect x="3383.00" y="2215.45" width="46.80" height="14.10" rx="7.05" fill="#fff"/>
<rect x="3383.00" y="2241.65" width="46.80" height="14.10" rx="7.05" fill="#fff"/>
<circle cx="3327.6" cy="2134.9" r="54.6" fill="#4040fd" style="mix-blend-mode:multiply"/>
<path d="M3339.56,2111.38 H3327.39 A11.76,11.76 0 0 0 3327.39,2134.90 A11.76,11.76 0 0 1 3327.39,2158.42 H3316.04 M3327.80,2111.38 V2104.82 M3327.80,2158.42 V2164.98" fill="none" stroke="#fff" stroke-width="10.34" stroke-linecap="round"/>
<text x="3428.6" y="2344.0" text-anchor="middle" font-size="50" fill="#979797" textLength="184.0" lengthAdjust="spacing" stroke="#fff" stroke-width="0.7" >Invoiced</text>
<text x="3429.5" y="2399.8" text-anchor="middle" font-size="50" fill="#979797" textLength="188.0" lengthAdjust="spacing" stroke="#fff" stroke-width="0.7" >recovery</text>
</svg>
</body></html>
